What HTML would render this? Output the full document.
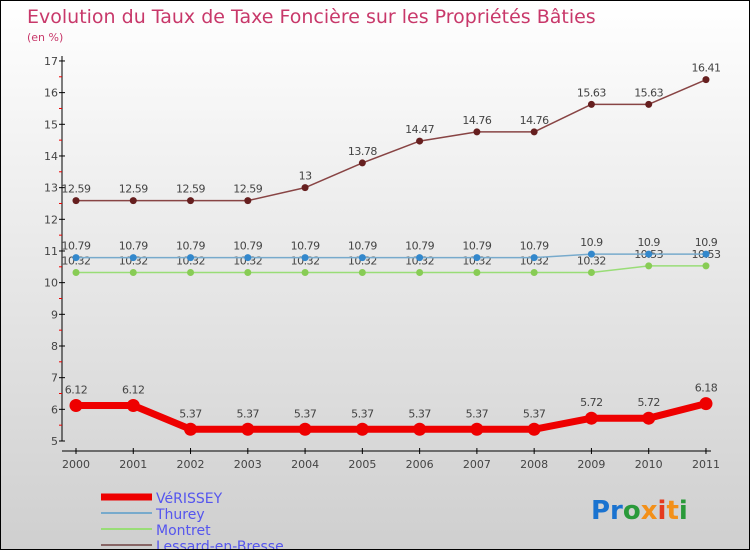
<!DOCTYPE html>
<html><head><meta charset="utf-8"><style>
body{margin:0}
#c{position:relative;width:748px;height:548px;border:1px solid #000;background:linear-gradient(#fff,#cfcfcf);font-family:"DejaVu Sans","Liberation Sans",sans-serif;overflow:hidden}
svg text{font-family:"DejaVu Sans","Liberation Sans",sans-serif}
</style></head><body>
<div id="c">
<svg id="s" width="748" height="548">
<text x="26" y="22" font-size="19" fill="#c8386a">Evolution du Taux de Taxe Foncière sur les Propriétés Bâties</text>
<text x="26" y="40" font-size="11" fill="#c8386a">(en %)</text>
<text x="590" y="518" font-size="26" font-weight="bold"><tspan fill="#1a73d0">Pr</tspan><tspan fill="#2a9a3a">o</tspan><tspan fill="#f39019">x</tspan><tspan fill="#e53a1f">i</tspan><tspan fill="#f39019">t</tspan><tspan fill="#2a9a3a">i</tspan></text>
</svg>
</div>
<script>
const years=[2000,2001,2002,2003,2004,2005,2006,2007,2008,2009,2010,2011];
const verissey=[6.12,6.12,5.37,5.37,5.37,5.37,5.37,5.37,5.37,5.72,5.72,6.18];
const thurey=[10.79,10.79,10.79,10.79,10.79,10.79,10.79,10.79,10.79,10.9,10.9,10.9];
const montret=[10.32,10.32,10.32,10.32,10.32,10.32,10.32,10.32,10.32,10.32,10.53,10.53];
const lessard=[12.59,12.59,12.59,12.59,13,13.78,14.47,14.76,14.76,15.63,15.63,16.41];
const yTicks=[5,6,7,8,9,10,11,12,13,14,15,16,17];
const NS="http://www.w3.org/2000/svg";
const s=document.getElementById('s');
const X=i=>75+i*57.27, Y=v=>440-(v-5)*31.67;
function el(t,a,p){const e=document.createElementNS(NS,t);for(const k in a)e.setAttribute(k,a[k]);(p||s).appendChild(e);return e;}
let ax=el('line',{x1:61,y1:55,x2:61,y2:440,stroke:'#000'});


let xa=el('line',{x1:61,y1:450,x2:710,y2:450,stroke:'#000'});


yTicks.forEach(v=>{
 el('line',{x1:58,y1:Y(v),x2:64,y2:Y(v),stroke:'#000'});
 if(v<17) el('line',{x1:58,y1:Y(v+0.5),x2:61,y2:Y(v+0.5),stroke:'#e00'});
 const t=el('text',{x:57,y:Y(v)+4,'font-size':11,fill:'#444','text-anchor':'end'});
 t.textContent=v;
 
 
});
years.forEach((y,i)=>{
 el('line',{x1:X(i),y1:447,x2:X(i),y2:453,stroke:'#000'});
 const t=el('text',{x:X(i),y:467,'font-size':11,fill:'#444','text-anchor':'middle'});
 t.textContent=y;
 
 
});
function series(data,color,dot,w,r,name,lblDy){
 const g=el('g',{});
 
 
 el('polyline',{points:data.map((v,i)=>X(i)+','+Y(v)).join(' '),fill:'none',stroke:color,'stroke-width':w,'stroke-linejoin':'round'},g);
 data.forEach((v,i)=>{
  const c=el('circle',{cx:X(i),cy:Y(v),r:r,fill:dot},g);
  
  
  const t=el('text',{x:X(i),y:Y(v)+lblDy,'font-size':11,fill:'#444','text-anchor':'middle','letter-spacing':'-0.5'},g);
  t.textContent=v;
  
  
 });
}
series(montret,'#99dd77','#88cc55',1.5,3.5,'montret',-8);
series(thurey,'#77aacc','#3388cc',1.5,3.5,'thurey',-8);
series(lessard,'#884444','#661f1f',1.5,3.5,'lessard',-8);
series(verissey,'#ee0000','#ee0000',7,6.5,'verissey',-12);
const leg=[['VéRISSEY','#ee0000',7],['Thurey','#77aacc',2],['Montret','#99dd77',2],['Lessard-en-Bresse','#886666',2]];
leg.forEach((l,i)=>{
 const y=492+i*16;
 const g=el('g',{});
 
 
 el('line',{x1:100,y1:y+4,x2:151,y2:y+4,stroke:l[1],'stroke-width':l[2]},g);
 const t=el('text',{x:155,y:y+10,'font-size':14,fill:'#5555ee'},g);
 t.textContent=l[0];
});
</script>
</body></html>
